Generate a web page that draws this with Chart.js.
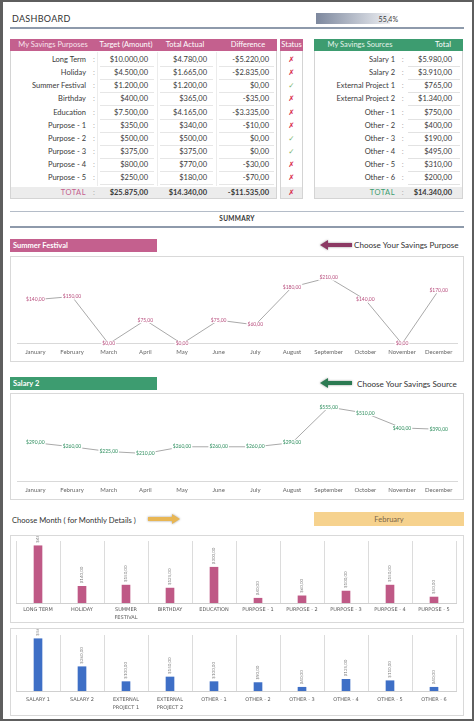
<!DOCTYPE html>
<html>
<head>
<meta charset="utf-8">
<title>Savings Dashboard</title>
<script src="https://cdn.jsdelivr.net/npm/chart.js@4.4.1/dist/chart.umd.min.js"></script>
<style>
  body { margin: 0; background: #fff; }
  #page { position: relative; width: 474px; height: 721px; overflow: hidden; background: #fff; font-family: Lato, sans-serif; color: #3a3a3a; }
  #frame { position: absolute; left: 0; top: 0; width: 474px; height: 721px; box-sizing: border-box; border: 2px solid #5e5e5e; border-left-width: 3px; pointer-events: none; z-index: 10; }
  .tx { position: absolute; line-height: 10px; white-space: nowrap; font-size: 7.5px; }
  .bx { position: absolute; box-sizing: border-box; }
  canvas { position: absolute; }
</style>
</head>
<body>
<div id="page">
  <div id="frame"></div>
</div>
<script>
// ---- data ----
const purposes = ['Long Term', 'Holiday', 'Summer Festival', 'Birthday', 'Education',
    'Purpose - 1', 'Purpose - 2', 'Purpose - 3', 'Purpose - 4', 'Purpose - 5'];
const targets = [10000, 4500, 1200, 400, 7500, 350, 500, 375, 800, 250];
const actuals = [4780, 1665, 1200, 365, 4165, 340, 500, 375, 770, 180];

const sources = ['Salary 1', 'Salary 2', 'External Project 1', 'External Project 2', 'Other - 1',
    'Other - 2', 'Other - 3', 'Other - 4', 'Other - 5', 'Other - 6'];
const sourceTotals = [5980, 3910, 765, 1340, 750, 400, 190, 495, 310, 200];

const months = ['January', 'February', 'March', 'April', 'May', 'June', 'July',
    'August', 'September', 'October', 'November', 'December'];
const summerFestival = [140, 150, 0, 75, 0, 75, 60, 180, 210, 140, 0, 170];
const salary2 = [290, 260, 225, 210, 260, 260, 260, 290, 555, 510, 400, 390];

const purposeTicks = ['LONG TERM', 'HOLIDAY', ['SUMMER', 'FESTIVAL'], 'BIRTHDAY', 'EDUCATION',
    'PURPOSE - 1', 'PURPOSE - 2', 'PURPOSE - 3', 'PURPOSE - 4', 'PURPOSE - 5'];
const febPurposes = [480, 140, 150, 125, 300, 40, 60, 100, 150, 50];
const sourceTicks = ['SALARY 1', 'SALARY 2', ['EXTERNAL', 'PROJECT 1'], ['EXTERNAL', 'PROJECT 2'],
    'OTHER - 1', 'OTHER - 2', 'OTHER - 3', 'OTHER - 4', 'OTHER - 5', 'OTHER - 6'];
const febSources = [560, 260, 100, 150, 100, 90, 40, 125, 110, 40];

const PINK = '#c4608e';
const GREEN = '#3d9c70';
const page = document.getElementById('page');

function money(v) {
    const neg = v < 0;
    const parts = Math.abs(v).toFixed(2).split('.');
    const whole = parts[0].replace(/\B(?=(\d{3})+(?!\d))/g, '.');
    return (neg ? '-' : '') + '$' + whole + ',' + parts[1];
}

function put(s, x, y, align, css) {
    const d = document.createElement('div');
    d.className = 'tx';
    d.textContent = s;
    if (align === 'right') d.style.right = (474 - x) + 'px';
    else if (align === 'center') { d.style.left = (x - 60) + 'px'; d.style.width = '120px'; d.style.textAlign = 'center'; }
    else d.style.left = x + 'px';
    d.style.top = (y - 5) + 'px';
    Object.assign(d.style, css || {});
    page.appendChild(d);
    return d;
}

function box(x, y, w, h, css) {
    const d = document.createElement('div');
    d.className = 'bx';
    Object.assign(d.style, { left: x + 'px', top: y + 'px', width: w + 'px', height: h + 'px' }, css || {});
    page.appendChild(d);
    return d;
}

function arrow(x, y, w, dir, color) {
    // simple block arrow, head on the left or right
    const wrap = box(x, y - 5, w, 10, { filter: 'drop-shadow(0 0 1px #9a9a9a)' });
    const shaft = document.createElement('div');
    const head = document.createElement('div');
    Object.assign(shaft.style, { position: 'absolute', top: '3px', height: '4px', width: (w - 7) + 'px', background: color });
    Object.assign(head.style, { position: 'absolute', top: '0', width: '0', height: '0',
        borderTop: '5px solid transparent', borderBottom: '5px solid transparent' });
    if (dir === 'left') {
        shaft.style.left = '7px';
        head.style.left = '0';
        head.style.borderRight = '8px solid ' + color;
    } else {
        shaft.style.left = '0';
        head.style.left = (w - 8) + 'px';
        head.style.borderLeft = '8px solid ' + color;
    }
    wrap.appendChild(shaft);
    wrap.appendChild(head);
}

const rowY = i => 60 + 13.15 * i;
const sum = a => a.reduce((s, v) => s + v, 0);

// ---- header ----
put('DASHBOARD', 12, 19, 'left', { fontSize: '9px', letterSpacing: '0.3px', color: '#333' });
box(316, 13, 74, 11, { background: 'linear-gradient(to right, #7d889e, #eceef2)' });
put((sum(actuals) / sum(targets) * 100).toFixed(1).replace('.', ',') + '%', 398, 18.5, 'right', { fontSize: '7px' });
box(10, 27, 454, 1.5, { background: '#8e9aab' });

// ---- purposes table ----
box(10, 39, 267, 160, { border: '1px solid #d4d4d4' });
box(10, 39, 267, 12, { background: PINK });
put('My Savings Purposes', 53, 45, 'center', { color: '#f7e3ec' });
put('Target (Amount)', 126, 45, 'center', { color: '#fff' });
put('Total Actual', 185, 45, 'center', { color: '#fff' });
put('Difference', 248, 45, 'center', { color: '#fff' });
[97, 157, 216].forEach(x => box(x, 52, 1, 134, { background: '#ececec' }));
purposes.forEach((p, i) => {
    const y = rowY(i);
    const diff = actuals[i] - targets[i];
    put(p, 86, y, 'right');
    put(':', 94, y, 'center', { color: '#aaa' });
    put(money(targets[i]), 148, y, 'right');
    put(money(actuals[i]), 207, y, 'right');
    put(money(diff), 269, y, 'right');
    [[100, 54], [160, 53], [219, 55]].forEach(c => box(c[0], y + 6, c[1], 1, { background: '#e6e6e6' }));
});
box(11, 187, 265, 11, { background: '#ececec' });
put('TOTAL', 86, 193, 'right', { color: PINK, letterSpacing: '0.5px' });
put(':', 94, 193, 'center', { color: '#aaa' });
put(money(sum(targets)), 148, 193, 'right', { fontWeight: 'bold' });
put(money(sum(actuals)), 207, 193, 'right', { fontWeight: 'bold' });
put(money(sum(actuals) - sum(targets)), 269, 193, 'right', { fontWeight: 'bold' });

// ---- status column ----
box(280, 39, 23, 160, { border: '1px solid #d4d4d4' });
const st = box(280, 39, 23, 12, { background: PINK, overflow: 'hidden' });
const stText = document.createElement('div');
stText.className = 'tx';
Object.assign(stText.style, { left: '-10px', width: '43px', textAlign: 'center', top: '1px', color: '#fff' });
stText.textContent = 'Status';
st.appendChild(stText);
const mark = ok => ok
    ? { s: '\u2713', c: '#7cb36a' }
    : { s: '\u2717', c: '#d9304f' };
purposes.forEach((p, i) => {
    const m = mark(actuals[i] >= targets[i]);
    put(m.s, 291.5, rowY(i), 'center', { color: m.c, fontFamily: 'DejaVu Sans', fontSize: '7.5px' });
});
box(281, 187, 21, 11, { background: '#ececec' });
const mt = mark(sum(actuals) >= sum(targets));
put(mt.s, 291.5, 193, 'center', { color: mt.c, fontFamily: 'DejaVu Sans', fontSize: '7.5px' });

// ---- sources table ----
box(314, 39, 149, 160, { border: '1px solid #d4d4d4' });
box(314, 39, 149, 12, { background: GREEN });
put('My Savings Sources', 360, 45, 'center', { color: '#e3f3ea' });
put('Total', 443, 45, 'center', { color: '#fff' });
sources.forEach((s, i) => {
    const y = rowY(i);
    put(s, 395, y, 'right');
    put(':', 402.7, y, 'center', { color: '#aaa' });
    put(money(sourceTotals[i]), 452, y, 'right');
    box(408, y + 6, 52, 1, { background: '#e2e2e2' });
});
box(315, 187, 147, 11, { background: '#ececec' });
put('TOTAL', 395, 193, 'right', { color: GREEN, letterSpacing: '0.5px' });
put(':', 402.7, 193, 'center', { color: '#aaa' });
put(money(sum(sourceTotals)), 452, 193, 'right', { fontWeight: 'bold' });

// ---- summary band ----
box(10, 211, 454, 1, { background: '#b4bcc8' });
put('SUMMARY', 237, 219, 'center', { fontSize: '6.5px', fontWeight: 'bold', letterSpacing: '0.3px', color: '#333' });
box(10, 226, 454, 1.5, { background: '#8e9aab' });

// ---- chart headers ----
box(10, 239, 147, 13, { background: PINK });
put('Summer Festival', 13, 245.5, 'left', { color: '#fff', fontWeight: 'bold' });
arrow(320, 244.5, 32, 'left', '#8c3a64');
put('Choose Your Savings Purpose', 354, 245, 'left', { fontSize: '8.1px', color: '#333' });

box(10, 377, 147, 13, { background: GREEN });
put('Salary 2', 13, 383.5, 'left', { color: '#fff', fontWeight: 'bold' });
arrow(320, 383, 32, 'left', '#2c7a52');
put('Choose Your Savings Source', 357, 383.5, 'left', { fontSize: '8.1px', color: '#333' });

put('Choose Month ( for Monthly Details )', 12, 519.5, 'left', { fontSize: '7.6px', color: '#333' });
arrow(148, 519, 32, 'right', '#e8b654');
box(314, 512, 150, 14, { background: '#f6d28e' });
put(months[1], 389, 519.5, 'center', { color: '#7a6548', fontSize: '7.5px' });

// ---- charts ----
Chart.defaults.font.family = 'Lato';
Chart.defaults.animation = false;

const pointLabels = {
    id: 'pointLabels',
    afterDatasetsDraw(chart, args, opts) {
        const ctx = chart.ctx;
        const values = chart.data.datasets[0].data;
        ctx.save();
        ctx.font = '5px Lato';
        ctx.textAlign = 'center';
        ctx.textBaseline = 'middle';
        chart.getDatasetMeta(0).data.forEach((pt, i) => {
            const s = money(values[i]);
            const w = ctx.measureText(s).width;
            ctx.fillStyle = '#fff';
            ctx.fillRect(pt.x - w / 2 - 1, pt.y - 3, w + 2, 6);
            ctx.fillStyle = opts.color;
            ctx.fillText(s, pt.x, pt.y);
        });
        ctx.restore();
    }
};

const barLabels = {
    id: 'barLabels',
    afterDatasetsDraw(chart) {
        const ctx = chart.ctx;
        const values = chart.data.datasets[0].data;
        ctx.save();
        ctx.font = '4.5px Lato';
        ctx.fillStyle = '#7f7f7f';
        ctx.textAlign = 'left';
        ctx.textBaseline = 'middle';
        chart.getDatasetMeta(0).data.forEach((bar, i) => {
            ctx.save();
            ctx.translate(bar.x, bar.y - 3);
            ctx.rotate(-Math.PI / 2);
            ctx.fillText(money(values[i]), 0, 0);
            ctx.restore();
        });
        ctx.restore();
    }
};

function addCanvas(x, y, w, h) {
    const c = document.createElement('canvas');
    c.width = w;
    c.height = h;
    Object.assign(c.style, { left: x + 'px', top: y + 'px', width: w + 'px', height: h + 'px' });
    page.appendChild(c);
    box(x, y, w, h, { border: '1px solid #d9d9d9' });
    return c;
}

function lineChart(y, h, data, max, color, pad) {
    const ctx = addCanvas(10, y, 454, h);
    new Chart(ctx, {
        type: 'line',
        data: {
            labels: months,
            datasets: [{
                data: data,
                borderColor: '#a9a9a9',
                borderWidth: 1,
                pointRadius: 0,
                tension: 0
            }]
        },
        options: {
            responsive: false,
            layout: { padding: { left: 7, right: 7, top: pad.top, bottom: pad.bottom } },
            plugins: {
                legend: { display: false },
                tooltip: { enabled: false },
                pointLabels: { color: color }
            },
            scales: {
                x: {
                    offset: true,
                    grid: { display: false, drawTicks: false },
                    border: { color: '#d9d9d9' },
                    ticks: { font: { size: 6 }, color: '#666', padding: 5, maxRotation: 0, autoSkip: false }
                },
                y: { display: false, min: 0, max: max }
            }
        },
        plugins: [pointLabels]
    });
}

function barChart(y, h, ticks, data, max, color, pad) {
    const ctx = addCanvas(10, y, 454, h);
    new Chart(ctx, {
        type: 'bar',
        data: {
            labels: ticks,
            datasets: [{
                data: data,
                backgroundColor: color,
                barThickness: 8
            }]
        },
        options: {
            responsive: false,
            layout: { padding: { left: 6, right: 8, top: pad.top, bottom: pad.bottom } },
            plugins: {
                legend: { display: false },
                tooltip: { enabled: false }
            },
            scales: {
                x: {
                    grid: { color: '#dcdcdc', drawTicks: false },
                    border: { color: '#d0d0d0' },
                    ticks: { font: { family: 'DejaVu Sans', size: 5, lineHeight: 1.6 }, color: '#595959', padding: pad.tick, maxRotation: 0, autoSkip: false }
                },
                y: { display: false, min: 0, max: max }
            }
        },
        plugins: [barLabels]
    });
}

lineChart(256, 106, summerFestival, 250, '#b9507f', { top: 9, bottom: 1 });
lineChart(393, 107, salary2, 600, '#2f8f5f', { top: 8, bottom: 1 });
barChart(535, 88, purposeTicks, febPurposes, 520, '#bf5986', { top: 6, bottom: -2, tick: 3 });
barChart(628, 88, sourceTicks, febSources, 600, '#3e6fc6', { top: 7, bottom: -1, tick: 5 });
</script>
</body>
</html>
